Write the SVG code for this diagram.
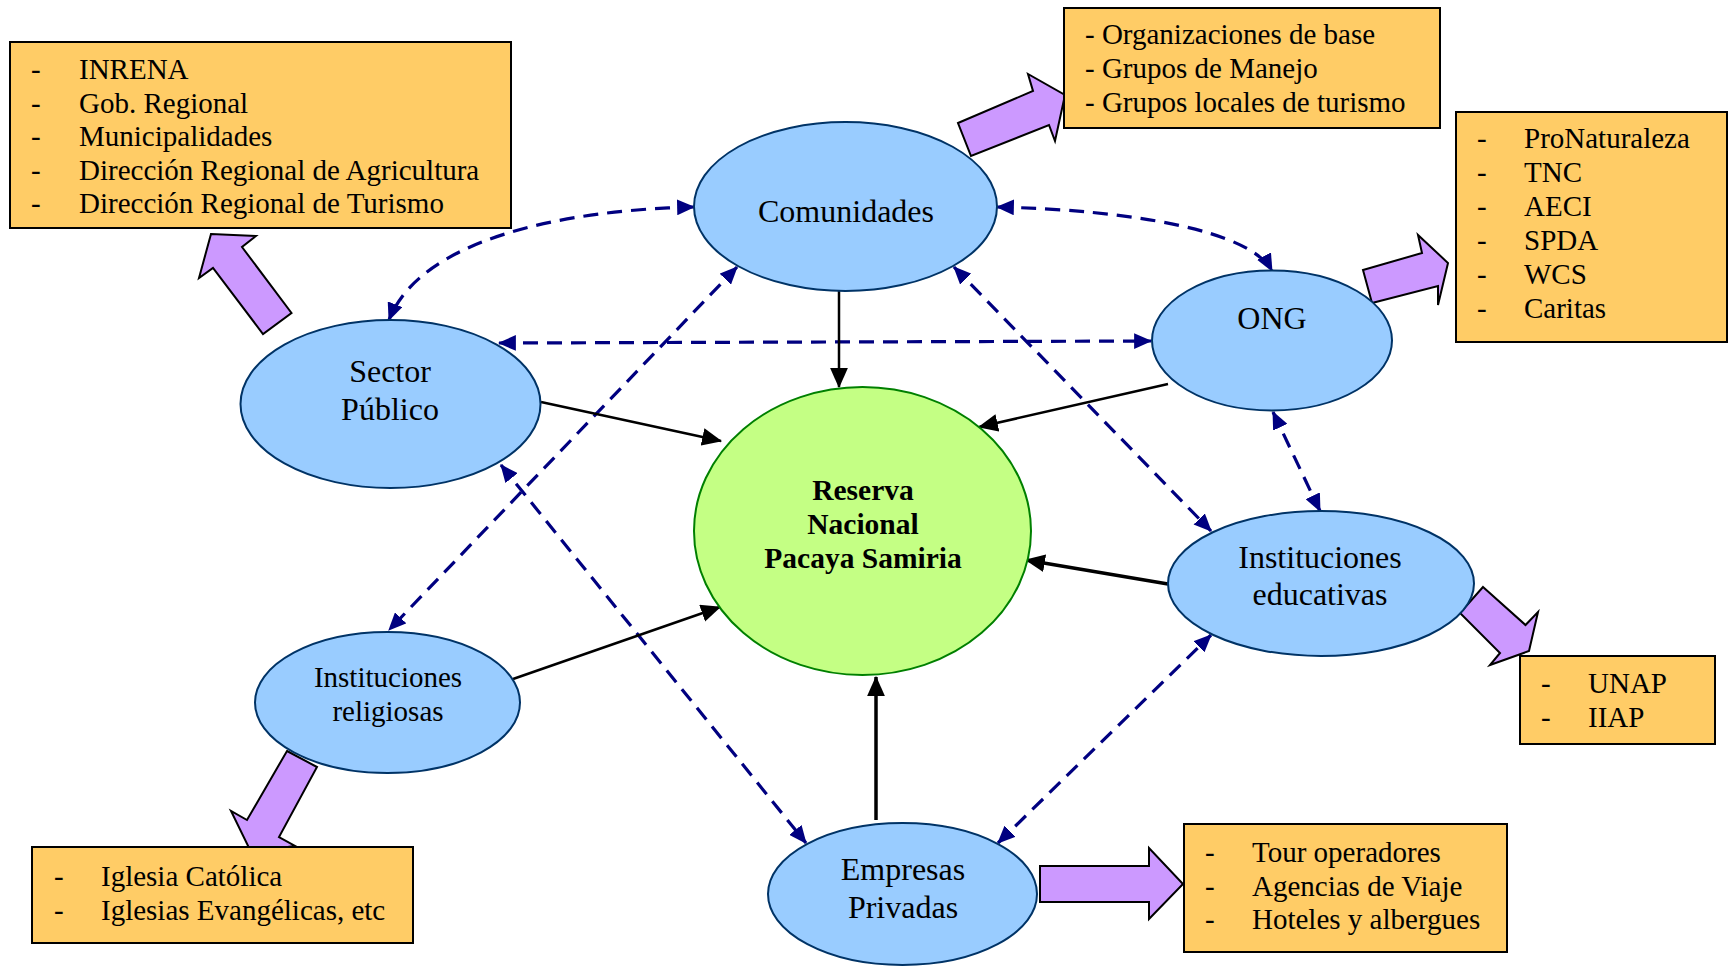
<svg xmlns="http://www.w3.org/2000/svg" width="1730" height="966" viewBox="0 0 1730 966">
<style>
.box{fill:#FFCC66;stroke:#000;stroke-width:2}
.node{fill:#99CCFF;stroke:#003366;stroke-width:2}
.core{fill:#C4FF84;stroke:#008000;stroke-width:2}
.blk{fill:#CC99FF;stroke:#000;stroke-width:2;stroke-linejoin:miter}
.t{font-family:"Liberation Serif","Times New Roman",serif;fill:#000}
.lst{font-size:29px}
.lbl{font-size:32px;text-anchor:middle}
.core-t{font-size:29.5px;font-weight:bold;text-anchor:middle}
.solid{fill:none;stroke:#000;stroke-width:2.5;marker-end:url(#ah)}
.thick{stroke-width:3.5}
.dash{fill:none;stroke:#000080;stroke-width:3.2;stroke-dasharray:15 9;marker-start:url(#dh);marker-end:url(#dh)}
</style>
<defs>
<marker id="ah" markerUnits="userSpaceOnUse" markerWidth="20" markerHeight="18" viewBox="0 0 18 16" refX="17" refY="8" orient="auto"><path d="M0,0 L18,8 L0,16 z" fill="#000"/></marker>
<marker id="dh" markerUnits="userSpaceOnUse" markerWidth="18" markerHeight="16" viewBox="0 0 16 14" refX="15" refY="7" orient="auto-start-reverse"><path d="M0,0 L16,7 L0,14 z" fill="#000080"/></marker>
</defs>
<rect width="1730" height="966" fill="#fff"/>

<g id="connectors">
<path class="dash" d="M694,207 C560,210 420,240 389,320"/>
<path class="dash" d="M997,207 C1130,210 1250,230 1272,271"/>
<path class="dash" d="M499,343 L1151,341"/>
<path class="dash" d="M737,267 L389,630"/>
<path class="dash" d="M954,267 L1211,531"/>
<path class="dash" d="M501,465 L806,843"/>
<path class="dash" d="M998,843 L1211,635"/>
<path class="dash" d="M1273,412 L1320,511"/>
<path class="solid" d="M839,291 L839,387"/>
<path class="solid" d="M541,402 L721,441"/>
<path class="solid" d="M1168,384 L979,427"/>
<path class="solid thick" d="M1168,584 L1026,560"/>
<path class="solid" d="M513,679 L720,607"/>
<path class="solid thick" d="M876,820 L876,677"/>
<polygon class="blk" points="211,234 256,236 242,247 291.5,313 263,334 213,268 199,278"/>
<polygon class="blk" points="958,123 1033,91 1028,74 1065,95 1055,141 1049,125 971,156"/>
<polygon class="blk" points="1363,270 1422,253 1418,235 1448,263 1438,305 1438,286 1372,303"/>
<polygon class="blk" points="1483,587 1525.5,625 1538,612 1529,651 1490,665 1500,653 1460,613"/>
<polygon class="blk" points="287,751 317,767 279,837 295,846 251,852 231,811 247,820"/>
<polygon class="blk" points="1040,866 1149,866 1149,848 1183,884 1149,919 1149,902 1040,902"/>
</g>

<g id="reserva">
<ellipse class="core" cx="862.5" cy="531" rx="168.5" ry="144"/>
<text class="t core-t" x="863" y="500">Reserva</text>
<text class="t core-t" x="863" y="534">Nacional</text>
<text class="t core-t" x="863" y="568">Pacaya Samiria</text>
</g>

<g id="comunidades">
<ellipse class="node" cx="845.5" cy="206.5" rx="151.5" ry="84.5"/>
<text class="t lbl" x="846" y="222">Comunidades</text>
</g>

<g id="ong">
<ellipse class="node" cx="1272" cy="340.5" rx="120" ry="70"/>
<text class="t lbl" x="1272" y="329">ONG</text>
</g>

<g id="sector-publico">
<ellipse class="node" cx="390.5" cy="404" rx="150" ry="84"/>
<text class="t lbl" x="390" y="382">Sector</text>
<text class="t lbl" x="390" y="420">Público</text>
</g>

<g id="inst-educativas">
<ellipse class="node" cx="1321" cy="583.5" rx="153" ry="72.5"/>
<text class="t lbl" x="1320" y="568">Instituciones</text>
<text class="t lbl" x="1320" y="605">educativas</text>
</g>

<g id="inst-religiosas">
<ellipse class="node" cx="387.5" cy="702.5" rx="132.5" ry="70.5"/>
<text class="t lbl" x="388" y="687" style="font-size:29px">Instituciones</text>
<text class="t lbl" x="388" y="721" style="font-size:29px">religiosas</text>
</g>

<g id="empresas">
<ellipse class="node" cx="902.5" cy="894" rx="134.5" ry="71"/>
<text class="t lbl" x="903" y="880">Empresas</text>
<text class="t lbl" x="903" y="918">Privadas</text>
</g>

<g id="list-sector">
<rect class="box" x="10" y="42" width="501" height="186"/>
<text class="t lst" y="79"><tspan x="31">-</tspan><tspan x="79">INRENA</tspan></text>
<text class="t lst" y="113"><tspan x="31">-</tspan><tspan x="79">Gob. Regional</tspan></text>
<text class="t lst" y="146"><tspan x="31">-</tspan><tspan x="79">Municipalidades</tspan></text>
<text class="t lst" y="180"><tspan x="31">-</tspan><tspan x="79">Dirección Regional de Agricultura</tspan></text>
<text class="t lst" y="213"><tspan x="31">-</tspan><tspan x="79">Dirección Regional de Turismo</tspan></text>
</g>

<g id="list-comunidades">
<rect class="box" x="1064" y="8" width="376" height="120"/>
<text class="t lst" x="1085" y="44">- Organizaciones de base</text>
<text class="t lst" x="1085" y="78">- Grupos de Manejo</text>
<text class="t lst" x="1085" y="112">- Grupos locales de turismo</text>
</g>

<g id="list-ong">
<rect class="box" x="1456" y="112" width="271" height="230"/>
<text class="t lst" y="148"><tspan x="1477">-</tspan><tspan x="1524">ProNaturaleza</tspan></text>
<text class="t lst" y="182"><tspan x="1477">-</tspan><tspan x="1524">TNC</tspan></text>
<text class="t lst" y="216"><tspan x="1477">-</tspan><tspan x="1524">AECI</tspan></text>
<text class="t lst" y="250"><tspan x="1477">-</tspan><tspan x="1524">SPDA</tspan></text>
<text class="t lst" y="284"><tspan x="1477">-</tspan><tspan x="1524">WCS</tspan></text>
<text class="t lst" y="318"><tspan x="1477">-</tspan><tspan x="1524">Caritas</tspan></text>
</g>

<g id="list-educativas">
<rect class="box" x="1520" y="656" width="195" height="88"/>
<text class="t lst" y="693"><tspan x="1541">-</tspan><tspan x="1588">UNAP</tspan></text>
<text class="t lst" y="727"><tspan x="1541">-</tspan><tspan x="1588">IIAP</tspan></text>
</g>

<g id="list-empresas">
<rect class="box" x="1184" y="824" width="323" height="128"/>
<text class="t lst" y="862"><tspan x="1205">-</tspan><tspan x="1252">Tour operadores</tspan></text>
<text class="t lst" y="896"><tspan x="1205">-</tspan><tspan x="1252">Agencias de Viaje</tspan></text>
<text class="t lst" y="929"><tspan x="1205">-</tspan><tspan x="1252">Hoteles y albergues</tspan></text>
</g>

<g id="list-religiosas">
<rect class="box" x="32" y="847" width="381" height="96"/>
<text class="t lst" y="886"><tspan x="54">-</tspan><tspan x="101">Iglesia Católica</tspan></text>
<text class="t lst" y="920"><tspan x="54">-</tspan><tspan x="101">Iglesias Evangélicas, etc</tspan></text>
</g>
</svg>
